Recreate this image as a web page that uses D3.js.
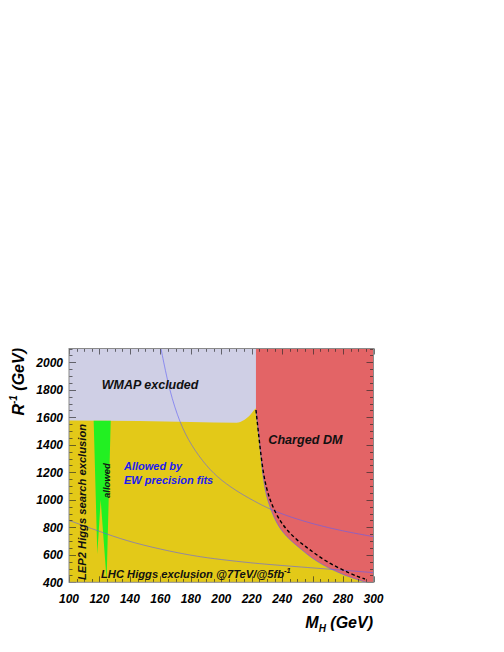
<!DOCTYPE html>
<html>
<head>
<meta charset="utf-8">
<script src="https://cdn.jsdelivr.net/npm/d3@7"></script>
<style>
  html, body { margin: 0; padding: 0; background: #ffffff; }
  svg { display: block; }
  text { font-family: "Liberation Sans", Arial, Helvetica, sans-serif; font-weight: bold; font-style: italic; }
</style>
</head>
<body>
<svg id="chart" width="504" height="652"></svg>
<script>
// ---------- data (M_H in GeV, R^-1 in GeV) ----------
const xTicks = [100, 120, 140, 160, 180, 200, 220, 240, 260, 280, 300];
const yTicks = [400, 600, 800, 1000, 1200, 1400, 1600, 1800, 2000];

// upper edge of the allowed (yellow) region = lower edge of WMAP exclusion
const wmapBoundaryX = [100, 146, 180, 210, 215, 219, 223.3, 300];
const wmapBoundaryY = [1577, 1573, 1566, 1561, 1580, 1617, 1665, 1665];

// charged DM boundary (left edge of red region)
const chargedX = [222.8, 224, 225, 226.1, 227.2, 228.6, 230.4, 233, 236.4, 240.8, 245.2, 251.7, 257, 262.7, 270, 280.2, 287, 295];
const chargedY = [1653, 1530, 1435, 1310, 1193, 1085, 1000, 915, 829, 758, 708, 647, 598, 553, 506, 455, 428, 400];

// dashed black curve
const dashX = [222.8, 224.3, 225.8, 227.6, 229.8, 232, 235.3, 239, 243.5, 249.6, 256, 262, 269.3, 277, 284.6, 290, 294.4];
const dashY = [1653, 1500, 1350, 1193, 1080, 1000, 913, 840, 775, 708, 655, 605, 550, 505, 465, 440, 424];

// contour lines (thin blue)
const contourUpperX = [160.4, 166, 172.9, 180, 190.4, 200, 212.3, 225.4, 232, 245, 262.7, 280, 300];
const contourUpperY = [2100, 1790, 1556, 1400, 1241, 1140, 1047, 968, 932, 875, 817, 772, 732];
const contourLowerX = [100, 120, 138, 160, 182, 200, 220, 240, 263, 280, 300];
const contourLowerY = [850, 770, 700, 640, 591, 565, 540, 522, 502, 488, 470];

// green "allowed" strip
const allowedX = [116.2, 118.6, 120.8, 124.7, 127.4];
const allowedY = [1575, 605, 1000, 415, 1575];

// ---------- layout ----------
const svg = d3.select("#chart");
const x = d3.scaleLinear().domain([100, 300]).range([69, 373.5]);
const y = d3.scaleLinear().domain([400, 2100]).range([582.3, 348.5]);
const [x0, x1] = x.range();
const [y0, y1] = [y(2100), y(400)];

const colLav = "#cfcfe5", colYel = "#e3c918", colRed = "#e36466", colGreen = "#22f022";
const contourCol = "rgba(95,95,245,0.6)";

svg.append("clipPath").attr("id", "plotclip")
  .append("rect").attr("x", x0).attr("y", y0).attr("width", x1 - x0).attr("height", y1 - y0);

const g = svg.append("g").attr("clip-path", "url(#plotclip)");

const zip = (xs, ys) => xs.map((v, i) => [v, ys[i]]);
const line = d3.line().x(d => x(d[0])).y(d => y(d[1]));
const smooth = d3.line().x(d => x(d[0])).y(d => y(d[1])).curve(d3.curveMonotoneX);
const basis = d3.line().x(d => x(d[0])).y(d => y(d[1])).curve(d3.curveBasis);

// lavender background (WMAP excluded)
g.append("rect").attr("x", x0).attr("y", y0).attr("width", x1 - x0).attr("height", y1 - y0).attr("fill", colLav);

// yellow allowed region
const yelTop = smooth(zip(wmapBoundaryX, wmapBoundaryY));
g.append("path").attr("d", yelTop + `L${x(300)},${y(400)}L${x(100)},${y(400)}Z`).attr("fill", colYel);

// green allowed
g.append("path").attr("d", line(zip(allowedX, allowedY)) + "Z").attr("fill", colGreen);

// red charged DM
const chargedPath = basis(zip(chargedX, chargedY));
g.append("path")
  .attr("d", `M${x(222.8)},${y(2100)}L` + chargedPath.slice(1) + `L${x(300)},${y(400)}L${x(300)},${y(2100)}Z`)
  .attr("fill", colRed);
g.append("path").attr("d", chargedPath).attr("fill", "none").attr("stroke", contourCol).attr("stroke-width", 1);

// contour lines
g.append("path").attr("d", basis(zip(contourUpperX, contourUpperY))).attr("fill", "none").attr("stroke", contourCol).attr("stroke-width", 1);
g.append("path").attr("d", basis(zip(contourLowerX, contourLowerY))).attr("fill", "none").attr("stroke", contourCol).attr("stroke-width", 1);

// dashed curve
g.append("path").attr("d", basis(zip(dashX, dashY))).attr("fill", "none")
  .attr("stroke", "#000").attr("stroke-width", 1.4).attr("stroke-dasharray", "3.5,2.5");

// ---------- ticks ----------
const tickCol = "rgba(40,40,40,0.65)";
const ticks = svg.append("g").attr("stroke", tickCol).attr("stroke-width", 1);
d3.range(100, 301, 5).forEach(v => {
  const len = v % 20 === 0 ? 6 : 3.3;
  const px = Math.round(x(v)) + 0.5;
  ticks.append("line").attr("x1", px).attr("x2", px).attr("y1", y0).attr("y2", y0 + len);
  ticks.append("line").attr("x1", px).attr("x2", px).attr("y1", y1).attr("y2", y1 - len);
});
d3.range(400, 2101, 50).forEach(v => {
  const len = v % 200 === 0 ? 7 : 3.5;
  const py = Math.round(y(v)) + 0.5;
  ticks.append("line").attr("x1", x0).attr("x2", x0 + len).attr("y1", py).attr("y2", py);
  ticks.append("line").attr("x1", x1).attr("x2", x1 - len).attr("y1", py).attr("y2", py);
});

// frame
svg.append("rect").attr("x", x0).attr("y", y0).attr("width", x1 - x0).attr("height", y1 - y0)
  .attr("fill", "none").attr("stroke", "#8a8a8a").attr("stroke-width", 1);

// tick labels
svg.append("g").selectAll("text").data(xTicks).join("text")
  .attr("x", d => x(d)).attr("y", 603).attr("text-anchor", "middle")
  .attr("font-size", 12).attr("fill", "#000").text(d => d);
svg.append("g").selectAll("text").data(yTicks).join("text")
  .attr("x", 63).attr("y", d => y(d)).attr("dy", "0.36em").attr("text-anchor", "end")
  .attr("font-size", 12).attr("fill", "#000").text(d => d);

// axis titles
const xt = svg.append("text").attr("x", 373).attr("y", 628).attr("text-anchor", "end").attr("font-size", 16).attr("fill", "#000");
xt.append("tspan").text("M");
xt.append("tspan").attr("font-size", 10).attr("dy", 4).text("H");
xt.append("tspan").attr("dy", -4).text(" (GeV)");

const yt = svg.append("text").attr("transform", "translate(24,348) rotate(-90)").attr("text-anchor", "end").attr("font-size", 16).attr("fill", "#000");
yt.append("tspan").text("R");
yt.append("tspan").attr("font-size", 10).attr("dy", -7).text("-1");
yt.append("tspan").attr("dy", 7).text(" (GeV)");

// annotations
svg.append("text").attr("x", 101.7).attr("y", 388.7).attr("font-size", 12.5).attr("fill", "#111").text("WMAP excluded");
svg.append("text").attr("x", 268.3).attr("y", 444.3).attr("font-size", 12.6).attr("fill", "#111").text("Charged DM");
svg.append("text").attr("x", 124).attr("y", 470).attr("font-size", 11).attr("fill", "#1c1cf0").text("Allowed by");
svg.append("text").attr("x", 124).attr("y", 484).attr("font-size", 11).attr("fill", "#1c1cf0").text("EW precision fits");
svg.append("text").attr("transform", "translate(86,580) rotate(-90)").attr("font-size", 11.2).attr("fill", "#111").text("LEP2 Higgs search exclusion");
svg.append("text").attr("transform", "translate(109.5,498) rotate(-90)").attr("font-size", 9.5).attr("fill", "#111").text("allowed");
const lhc = svg.append("text").attr("x", 101).attr("y", 578).attr("font-size", 11.2).attr("fill", "#111");
lhc.append("tspan").text("LHC Higgs exclusion @7TeV/@5fb");
lhc.append("tspan").attr("font-size", 7.5).attr("dy", -5).text("-1");
</script>
</body>
</html>
